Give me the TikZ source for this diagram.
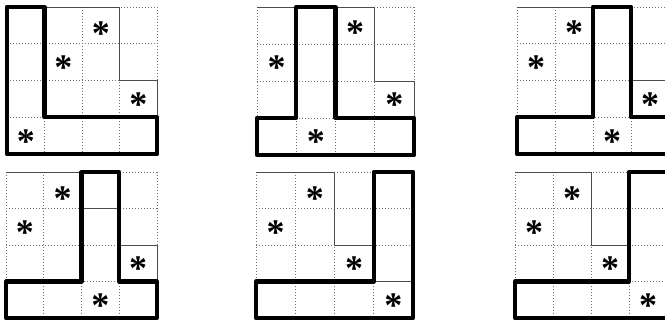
\documentclass[tikz,border=0pt]{standalone}
\usepackage{fontspec}
\newfontfamily\starfont{Liberation Serif}
\tikzset{
  dotline/.style={line width=0.7pt, draw=black!55, dash pattern=on 0.8pt off 2.2pt},
  thinline/.style={line width=0.9pt, draw=black!70},
  thickline/.style={line width=4.2pt, draw=black, line join=round, line cap=round},
  star/.style={inner sep=0pt, anchor=center, font=\fontsize{36}{36}\selectfont\starfont\bfseries},
}
\newcommand\starglyph{\raisebox{-0.48em}[0.21em][0.21em]{*}}
\newcommand\dotgrid{\foreach \k in {0,...,4}{\draw[dotline] (\k,0)--(\k,4); \draw[dotline] (0,\k)--(4,\k);}}
\begin{document}
\begin{tikzpicture}[x=1pt,y=1pt]
\useasboundingbox (0,0) rectangle (665,-321);
\clip (0,0) rectangle (665,-321);
\fill[white] (0,0) rectangle (665,-321);
% Grid 1
\begin{scope}[shift={(7pt,-7pt)}, x={(37.5pt,0pt)}, y={(0pt,-36.8pt)}]
  \dotgrid
  \draw[thinline] (1,0)--(3,0)--(3,2)--(4,2)--(4,3);
  \draw[thickline] (0,0)--(1,0)--(1,3)--(4,3)--(4,4)--(0,4)--cycle;
  \node[star] (a1) at (2.5,0.58) {\starglyph};
  \node[star] (a2) at (1.5,1.5) {\starglyph};
  \node[star] (a3) at (3.5,2.5) {\starglyph};
  \node[star] (a4) at (0.5,3.5) {\starglyph};
\end{scope}
% Grid 2
\begin{scope}[shift={(257pt,-7pt)}, x={(39.25pt,0pt)}, y={(0pt,-37pt)}]
  \dotgrid
  \draw[thinline] (0,0)--(1,0);
  \draw[thinline] (2,0)--(3,0)--(3,2)--(4,2)--(4,3);
  \draw[thickline] (1,0)--(2,0)--(2,3)--(4,3)--(4,4)--(0,4)--(0,3)--(1,3)--cycle;
  \node[star] (b1) at (2.5,0.55) {\starglyph};
  \node[star] (b2) at (0.5,1.5) {\starglyph};
  \node[star] (b3) at (3.5,2.5) {\starglyph};
  \node[star] (b4) at (1.5,3.5) {\starglyph};
\end{scope}
% Grid 3
\begin{scope}[shift={(517pt,-7pt)}, x={(38pt,0pt)}, y={(0pt,-36.8pt)}]
  \dotgrid
  \draw[thinline] (0,0)--(2,0);
  \draw[thinline] (3,2)--(4,2)--(4,3);
  \draw[thickline] (2,0)--(3,0)--(3,3)--(4,3)--(4,4)--(0,4)--(0,3)--(2,3)--cycle;
  \node[star] (c1) at (1.5,0.55) {\starglyph};
  \node[star] (c2) at (0.5,1.5) {\starglyph};
  \node[star] (c3) at (3.5,2.5) {\starglyph};
  \node[star] (c4) at (2.5,3.5) {\starglyph};
\end{scope}
% Grid 4
\begin{scope}[shift={(6pt,-172pt)}, x={(37.75pt,0pt)}, y={(0pt,-36.5pt)}]
  \dotgrid
  \draw[thinline] (0,0)--(2,0);
  \draw[thinline] (2,1)--(3,1);
  \draw[thinline] (3,2)--(4,2)--(4,3);
  \draw[thickline] (2,0)--(3,0)--(3,3)--(4,3)--(4,4)--(0,4)--(0,3)--(2,3)--cycle;
  \node[star] (d1) at (1.5,0.58) {\starglyph};
  \node[star] (d2) at (0.5,1.5) {\starglyph};
  \node[star] (d3) at (3.5,2.5) {\starglyph};
  \node[star] (d4) at (2.5,3.5) {\starglyph};
\end{scope}
% Grid 5
\begin{scope}[shift={(256pt,-172pt)}, x={(39.25pt,0pt)}, y={(0pt,-36.5pt)}]
  \dotgrid
  \draw[thinline] (0,0)--(2,0)--(2,2)--(3,2);
  \draw[thinline] (3,3)--(4,3);
  \draw[thickline] (3,0)--(4,0)--(4,4)--(0,4)--(0,3)--(3,3)--cycle;
  \node[star] (e1) at (1.5,0.58) {\starglyph};
  \node[star] (e2) at (0.5,1.5) {\starglyph};
  \node[star] (e3) at (2.5,2.5) {\starglyph};
  \node[star] (e4) at (3.5,3.5) {\starglyph};
\end{scope}
% Grid 6
\begin{scope}[shift={(515pt,-172pt)}, x={(38pt,0pt)}, y={(0pt,-36.5pt)}]
  \dotgrid
  \draw[thinline] (0,0)--(2,0)--(2,2)--(3,2);
  \draw[thickline] (3,0)--(4,0)--(4,4)--(0,4)--(0,3)--(3,3)--cycle;
  \node[star] (f1) at (1.5,0.58) {\starglyph};
  \node[star] (f2) at (0.5,1.5) {\starglyph};
  \node[star] (f3) at (2.5,2.5) {\starglyph};
  \node[star] (f4) at (3.5,3.5) {\starglyph};
\end{scope}
\end{tikzpicture}
\end{document}
